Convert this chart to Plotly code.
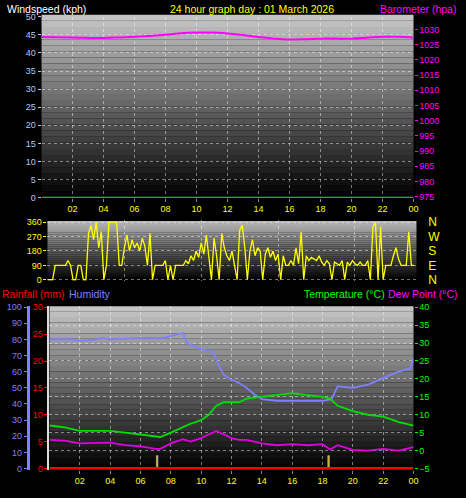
import plotly.graph_objects as go

W, H = 466, 498
def fx(px): return px / W
def fy(py): return 1 - py / H

hours_even = list(range(2, 25, 2))
hour_labels = ["02","04","06","08","10","12","14","16","18","20","22","00"]

# Barometer (hPa)
baro_h = [0, 2, 4, 6, 8, 9, 10, 11, 12, 13, 14, 15, 16, 17, 18, 19, 20, 21, 22, 23, 24]
baro_v = [1027.5, 1027.4, 1027.2, 1027.6, 1028.3, 1028.8, 1029.0, 1029.0, 1028.7, 1028.2, 1027.5, 1027.0, 1026.7, 1026.8, 1027.0, 1027.0, 1027.0, 1027.3, 1027.6, 1027.6, 1027.4]
# Windspeed (kph)
wind_h = [0, 24]
wind_v = [0, 0]

# Wind direction, 10-minute samples
wdir = [0,0,0,90,90,90,90,90,120,90,0,0,90,90,0,0,290,340,250,360,200,300,0,90,360,360,360,360,
        90,90,200,280,180,250,200,230,180,260,210,90,290,0,90,90,90,90,120,0,90,0,90,90,90,90,
        120,100,150,120,180,140,230,160,280,120,0,260,150,0,290,200,150,120,180,90,0,310,340,200,
        0,180,250,150,200,180,0,160,200,140,180,120,160,0,150,90,90,120,90,200,100,300,0,150,
        120,140,130,120,150,110,90,120,100,0,110,100,90,120,0,110,90,120,100,90,110,90,90,120,
        0,330,360,0,330,0,90,90,90,150,200,130,90,90,90,300,90,90]
wdir_h = [i / 6 for i in range(len(wdir))]
compass_vals = [0, 90, 180, 270, 360]
compass_text = ["N", "E", "S", "W", "N"]

# Humidity (%)
hum_h = [0, 1.5, 2, 3, 3.5, 4, 6, 7.5, 8, 8.8, 9.0, 9.2, 9.5, 10, 10.8, 11.2, 11.5, 12, 12.5, 13, 13.5, 14, 15, 16, 17, 18, 18.6, 19, 20, 21, 22, 23, 23.8, 24]
hum_v = [80, 80, 79, 80, 81, 80, 81, 81, 82, 84, 79, 77, 76, 74, 72, 63, 58, 55, 53, 50, 46, 43, 42, 42, 42, 42, 43, 51, 50, 52, 56, 60, 62, 68]
# Temperature (°C)
temp_h = [0, 1, 2, 3, 4, 5, 6, 7, 7.3, 8, 8.8, 9.3, 10, 10.5, 11, 11.5, 12, 12.5, 13, 14, 15, 16, 17, 18, 18.5, 19, 20, 21, 22, 23, 24]
temp_v = [7.0, 6.5, 5.5, 5.5, 5.5, 5.0, 4.5, 4.0, 3.8, 5.0, 6.5, 7.5, 8.5, 10.0, 12.5, 13.5, 13.5, 13.5, 14.5, 15.0, 15.5, 16.0, 15.5, 15.0, 14.5, 12.5, 11.0, 10.0, 9.5, 8.0, 7.0]
# Dew point (°C)
dew_h = [0, 1, 2, 3, 4, 5, 6, 7, 7.3, 8, 8.8, 9.3, 10, 10.5, 11, 11.5, 12, 12.5, 13, 14, 15, 16, 17, 18, 18.5, 19, 20, 21, 22, 23, 24]
dew_v = [3.0, 2.8, 2.0, 2.0, 2.2, 1.5, 1.2, 0.5, 0.5, 2.0, 3.2, 2.5, 3.5, 4.5, 5.5, 4.5, 3.5, 3.0, 3.0, 2.0, 1.5, 1.8, 1.5, 1.8, 0.3, 1.5, 0.2, 0.0, 0.5, 0.0, 1.0]
# Rainfall (mm)
rain_h = [0, 24]
rain_v = [0, 0]
# Rain events markers (humidity scale)
event_h = [7.1, 18.4]
event_v = [8, 8]

fig = go.Figure()
fig.add_trace(go.Scatter(x=wind_h, y=wind_v, mode="lines", line=dict(color="#00ff00", width=2), xaxis="x", yaxis="y"))
fig.add_trace(go.Scatter(x=baro_h, y=baro_v, mode="lines", line=dict(color="#ff00ff", width=2, shape="spline"), xaxis="x", yaxis="y2"))
fig.add_trace(go.Scatter(x=wdir_h, y=wdir, mode="lines", line=dict(color="#ffff00", width=1.3), xaxis="x2", yaxis="y3"))
fig.add_trace(go.Scatter(x=[None], y=[None], xaxis="x2", yaxis="y4"))
fig.add_trace(go.Bar(x=event_h, y=event_v, width=0.1, marker_color="#c8a000", xaxis="x3", yaxis="y5"))
fig.add_trace(go.Scatter(x=hum_h, y=hum_v, mode="lines", line=dict(color="#8080ff", width=1.8), xaxis="x3", yaxis="y5"))
fig.add_trace(go.Scatter(x=temp_h, y=temp_v, mode="lines", line=dict(color="#00e000", width=1.8), xaxis="x3", yaxis="y7"))
fig.add_trace(go.Scatter(x=dew_h, y=dew_v, mode="lines", line=dict(color="#e000e0", width=1.8), xaxis="x3", yaxis="y7"))
fig.add_trace(go.Scatter(x=rain_h, y=rain_v, mode="lines", line=dict(color="#ff0000", width=3), xaxis="x3", yaxis="y6"))

grid = dict(showgrid=True, gridcolor="rgba(255,255,255,0.45)", griddash="dot", gridwidth=1)
tf = dict(family="Liberation Sans, Arial", size=9)
xcommon = dict(range=[0, 24], tickvals=hours_even, ticktext=hour_labels, tickfont=dict(tf, color="#ffff00"),
               ticks="outside", tickcolor="#888", ticklen=3, zeroline=False, **grid)

shapes = []
def gradient(x0, x1, y0, y1, top, n=30):
    for i in range(n):
        a = y1 - (y1 - y0) * i / n
        b = y1 - (y1 - y0) * (i + 1) / n
        g = int(top * (1 - (i + 0.5) / n))
        shapes.append(dict(type="rect", xref="paper", yref="paper", x0=x0, x1=x1, y0=b, y1=a,
                           fillcolor=f"rgb({g},{g},{g})", line_width=0, layer="below"))
gradient(fx(42), fx(418), fy(197), fy(10), 200)
gradient(fx(48), fx(421), fy(281), fy(221), 185)
gradient(fx(50), fx(418), fy(475), fy(308), 200)

def ann(text, x, y, color, anchor):
    return dict(text=text, x=fx(x), y=fy(y), xref="paper", yref="paper", xanchor=anchor, yanchor="middle",
                showarrow=False, font=dict(family="Liberation Sans", size=10.5, color=color))

fig.update_layout(
    width=W, height=H, margin=dict(l=0, r=0, t=0, b=0), autosize=False,
    paper_bgcolor="black", plot_bgcolor="rgba(0,0,0,0)", showlegend=False, shapes=shapes,
    xaxis=dict(domain=[fx(42), fx(418)], anchor="y", **xcommon),
    yaxis=dict(domain=[fy(197), fy(12)], range=[0, 50], dtick=5, tickfont=dict(tf, color="#aaccff"),
               ticks="outside", tickcolor="#aaccff", ticklen=3, zeroline=False, **grid),
    yaxis2=dict(overlaying="y", side="right", anchor="x", range=[974.7, 1034.2], dtick=5, showgrid=False,
                tickfont=dict(tf, color="#ff00ff"), ticks="outside", tickcolor="#ff00ff", ticklen=3, zeroline=False),
    xaxis2=dict(domain=[fx(48), fx(421)], anchor="y3", range=[0, 24], showticklabels=False, zeroline=False, **grid),
    yaxis3=dict(domain=[fy(282), fy(220)], anchor="x2", range=[-6.3, 372.6], tickvals=compass_vals,
                tickfont=dict(tf, color="#ffff00"), ticks="outside", tickcolor="#ffff00", ticklen=3, zeroline=False, **grid),
    yaxis4=dict(overlaying="y3", side="right", anchor="free", position=fx(432), range=[-6.3, 372.6],
                tickvals=compass_vals, ticktext=compass_text, tickmode="array",
                tickfont=dict(family="Liberation Sans", size=12, color="#ffff00"),
                showgrid=False, zeroline=False, ticks="", showticklabels=True),
    xaxis3=dict(domain=[fx(50), fx(418)], anchor="y5", **xcommon),
    yaxis5=dict(domain=[fy(475), fy(308)], anchor="free", position=fx(28), range=[-0.6, 100.6], dtick=10,
                tickfont=dict(tf, color="#8080ff"), ticks="outside", tickcolor="#8080ff", ticklen=3,
                showline=True, linecolor="#8080ff", linewidth=3, zeroline=False, showgrid=False),
    yaxis6=dict(overlaying="y5", anchor="free", position=fx(49), range=[-0.18, 30.2], dtick=5, side="left",
                tickfont=dict(tf, color="#ff0000"), ticks="outside", tickcolor="#ff0000", ticklen=3,
                showline=True, linecolor="#dddddd", linewidth=2, zeroline=False, showgrid=False),
    yaxis7=dict(overlaying="y5", side="right", anchor="x3", range=[-5.27, 40.27], dtick=5,
                tickfont=dict(tf, color="#00ff00"), ticks="outside", tickcolor="#00ff00", ticklen=3,
                zeroline=False, **grid),
    annotations=[
        ann("Windspeed (kph)", 5, 4, "white", "left"),
        ann("24 hour graph day : 01 March 2026", 255, 4, "#ffff00", "center"),
        ann("Barometer (hpa)", 463, 4, "#ff00ff", "right"),
        ann("Rainfall (mm)", 0, 296, "#ff0000", "left"),
        ann("Humidity", 68, 296, "#8080ff", "left"),
        ann("Temperature (°C)", 391, 296, "#00ff00", "right"),
        ann("Dew Point (°C)", 465, 296, "#ff00ff", "right"),
    ],
)
fig.write_html("out.html", config={"displayModeBar": False},
               post_script="document.body.style.margin='0';document.body.style.overflow='hidden';")
